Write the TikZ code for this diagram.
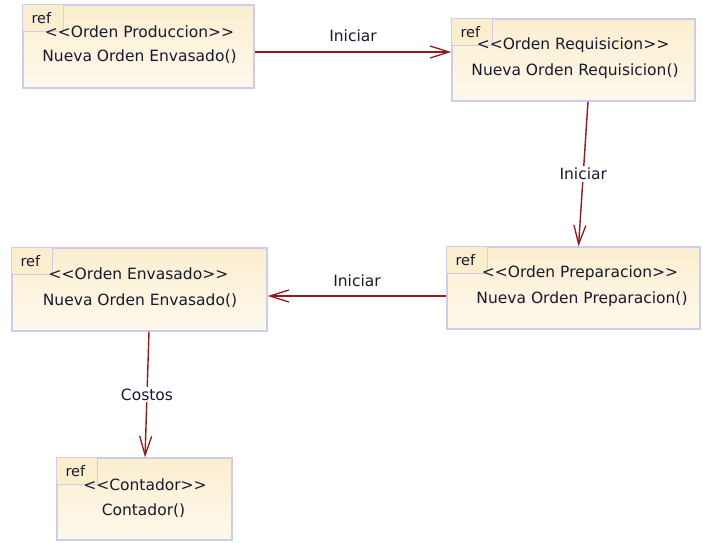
\documentclass[tikz,border=0pt]{standalone}
\usepackage{fontspec}
\setmainfont{DejaVu Sans}[Ligatures=TeXOff]
\usetikzlibrary{arrows.meta}
\definecolor{boxline}{RGB}{205,205,232}
\definecolor{creamtop}{RGB}{251,238,207}
\definecolor{creambot}{RGB}{254,249,237}
\definecolor{flowred}{RGB}{142,28,28}
\definecolor{ink}{RGB}{25,25,45}
\begin{document}
\begin{tikzpicture}[x=1pt,y=-1pt,
  refbox/.style={draw=boxline, line width=1.4pt, top color=creamtop, bottom color=creambot, inner sep=0pt},
  tabline/.style={draw=boxline, line width=1.2pt, fill=creamtop},
  reftext/.style={font=\fontsize{14.5}{17}\selectfont, text=ink, inner sep=0pt, anchor=base west},
  boxtext/.style={font=\fontsize{15.5}{18}\selectfont, text=ink, inner sep=0pt, anchor=base},
  flow/.style={draw=flowred, line width=1.4pt, -{Straight Barb[length=19pt,width=12pt,line width=1.3pt]}},
  flowlabel/.style={font=\fontsize{15.5}{18}\selectfont, text=ink},
  cutlabel/.style={flowlabel, fill=white, inner sep=2pt}]

\useasboundingbox[fill=white] (0,0) rectangle (703,542);

% interaction reference frames
\node[refbox, minimum width=231pt, minimum height=83pt] (prod) at (138.5,46.5) {};
\node[refbox, minimum width=243pt, minimum height=82pt] (req)  at (573.5,60) {};
\node[refbox, minimum width=255pt, minimum height=83pt] (env)  at (139.5,289.5) {};
\node[refbox, minimum width=253pt, minimum height=82pt] (prep) at (573.5,288) {};
\node[refbox, minimum width=175pt, minimum height=82pt] (cont) at (144.5,499) {};

% "ref" tabs in the upper left corners
\foreach \b in {prod,req,env,prep,cont}{
  \draw[tabline] (\b.north west) rectangle ++(41,27);
  \node[reftext] (\b-ref) at ([xshift=9pt,yshift=-19pt]\b.north west) {ref};
}

% frame contents
\node[boxtext] (prod-st) at (139.5,37) {<<Orden Produccion>>};
\node[boxtext] (prod-op) at (139.5,61) {Nueva Orden Envasado()};
\node[boxtext] (req-st)  at (573,49)   {<<Orden Requisicion>>};
\node[boxtext] (req-op)  at (575,75)   {Nueva Orden Requisicion()};
\node[boxtext] (env-st)  at (138.5,279) {<<Orden Envasado>>};
\node[boxtext] (env-op)  at (140,305)  {Nueva Orden Envasado()};
\node[boxtext] (prep-st) at (580,277)  {<<Orden Preparacion>>};
\node[boxtext] (prep-op) at (582,303)  {Nueva Orden Preparacion()};
\node[boxtext] (cont-st) at (145,490)  {<<Contador>>};
\node[boxtext] (cont-op) at (143.5,515) {Contador()};

% messages between frames
\draw[flow] ([yshift=-5.5pt]prod.east) -- node[flowlabel, above=6pt] {Iniciar} ([yshift=8pt]req.west);
\draw[flow] ([xshift=14.5pt]req.south) -- node[cutlabel] {Iniciar} ([xshift=5pt]prep.north);
\draw[flow] ([yshift=-8pt]prep.west) -- node[flowlabel, above=5pt] {Iniciar} ([yshift=-6.5pt]env.east);
\draw[flow] ([xshift=9.5pt]env.south) -- node[cutlabel] {Costos} ([xshift=0.5pt]cont.north);
\end{tikzpicture}
\end{document}
